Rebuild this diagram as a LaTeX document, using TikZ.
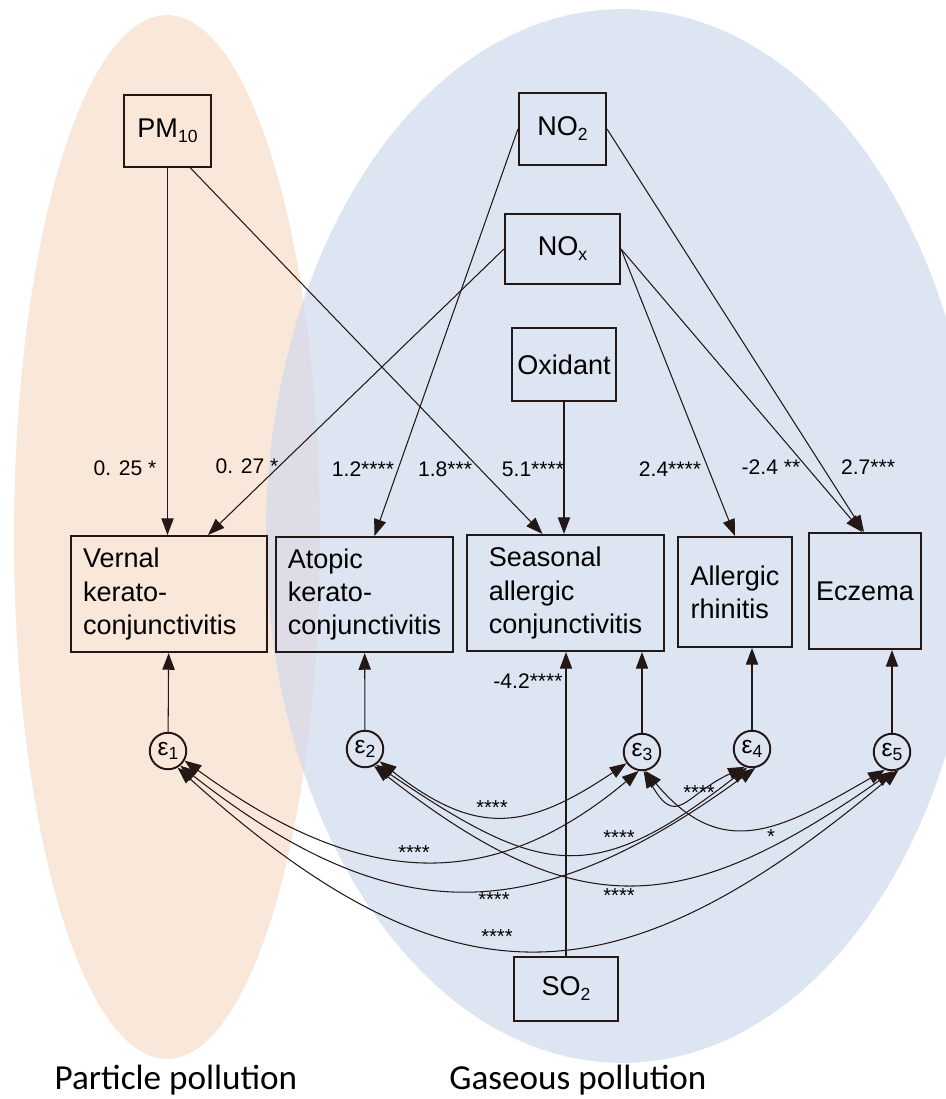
\documentclass[tikz,border=0pt]{standalone}
\usepackage{fontspec}
\setmainfont{Liberation Sans}
\newfontfamily\captionfont{Carlito}
\usepackage{tikz}
\usetikzlibrary{arrows.meta, calc}

\definecolor{partfill}{HTML}{F9E7D9}
\definecolor{gasfill}{HTML}{DDE5F2}
\definecolor{bothfill}{HTML}{DEDCE7}
\definecolor{ink}{HTML}{231815}
\newcommand{\chemsub}[1]{\raisebox{-0.35ex}{\fontsize{10}{12}\selectfont #1}}

\begin{document}
\begin{tikzpicture}[x=0.02cm, y=0.02cm,
          var/.style={rectangle, draw=ink, line width=1.2pt,
                      minimum width=1.74cm, minimum height=1.44cm, inner sep=0pt,
                      font=\fontsize{15.4}{18.8}\selectfont},
          outc/.style={rectangle, draw=ink, line width=1.2pt, align=left, inner sep=0pt,
                      font=\fontsize{15.4}{18.8}\selectfont},
          err/.style={circle, draw=ink, line width=1.1pt, minimum size=0.73cm,
                      inner sep=0pt, font=\fontsize{14}{14}\selectfont},
          coef/.style={font=\fontsize{12}{14}\selectfont, inner sep=1pt},
          stars/.style={font=\fontsize{11.5}{13}\selectfont, inner sep=1pt},
          arr/.style={-{Triangle[length=9.5pt, width=7pt]}, ink, line width=0.6pt},
          cov/.style={{Triangle[length=9.5pt, width=7pt]}-{Triangle[length=9.5pt, width=7pt]},
                      ink, line width=0.6pt}]
          % two groups of pollutants
          \useasboundingbox (0,0) rectangle (946,-1099);
          \begin{scope}
            \clip (0,0) rectangle (946,-1099);
            \fill[partfill] (167,-537) ellipse [x radius=3.06cm, y radius=10.44cm];
            \fill[gasfill] (622,-536) ellipse [x radius=7.12cm, y radius=10.54cm];
            \clip (167,-537) ellipse [x radius=3.06cm, y radius=10.44cm];
            \fill[bothfill] (622,-536) ellipse [x radius=7.12cm, y radius=10.54cm];
          \end{scope}

          % exposures
          \node[var] (pm10) at (167.5,-131) {PM\chemsub{10}};
          \node[var] (no2)  at (562.5,-129) {NO\chemsub{2}};
          \node[var, minimum width=2.3cm, minimum height=1.4cm] (nox) at (562.5,-249) {NO\chemsub{x}};
          \node[var, minimum width=2.08cm, minimum height=1.46cm] (oxid) at (564,-364.5) {Oxidant};
          \node[var, minimum width=2.08cm, minimum height=1.28cm] (so2) at (566,-989) {SO\chemsub{2}};

          % outcomes
          \node[outc, text width=3.44cm, inner xsep=0.24cm, minimum height=2.32cm] (vkc) at (169,-594)
               {Vernal\\kerato-\\conjunctivitis};
          \node[outc, minimum width=3.54cm, minimum height=2.3cm] (akc) at (364.5,-594.5)
               {Atopic\\kerato-\\conjunctivitis};
          \node[outc, minimum width=3.94cm, minimum height=2.32cm] (sac) at (565.5,-593)
               {Seasonal\\allergic\\conjunctivitis};
          \node[outc, minimum width=2.28cm, minimum height=2.2cm] (ar) at (735,-592) {Allergic\\rhinitis};
          \node[outc, minimum width=2.24cm, minimum height=2.32cm] (ecz) at (865,-591) {Eczema};

          % error terms
          \node[err] (e1) at (168,-751) {ε\chemsub{1}};
          \node[err] (e2) at (365,-749) {ε\chemsub{2}};
          \node[err] (e3) at (642,-752) {ε\chemsub{3}};
          \node[err] (e4) at (752,-749) {ε\chemsub{4}};
          \node[err] (e5) at (892,-752) {ε\chemsub{5}};

          % paths
          \draw[arr] (pm10) -- (pm10 |- vkc.north);
          \draw[arr] ($(pm10.south)+(23,0)$) -- ($(sac.north)+(-23,0)$);
          \draw[arr] (nox.west) -- ($(vkc.north)+(39,0)$);
          \draw[arr] (no2.west) -- ($(akc.north)+(10,0)$);
          \draw[arr] (oxid) -- (oxid |- sac.north);
          \draw[arr] (nox.east) -- (ar.north);
          \draw[arr] (nox.east) -- ($(ecz.north)+(-3,0)$);
          \draw[arr] (no2.east) -- ($(ecz.north)+(-1,0)$);
          \draw[arr] (so2) -- (so2 |- sac.south);
          \draw[arr] (e1) -- (vkc);
          \draw[arr] (e2) -- (akc);
          \draw[arr] (e3) -- (e3 |- sac.south);
          \draw[arr] (e4) -- (e4 |- ar.south);
          \draw[arr] (e5) -- (e5 |- ecz.south);

          % coefficients
          \node[coef] (c1) at (125,-468) {0. 25 *};
          \node[coef] (c2) at (247,-466) {0. 27 *};
          \node[coef] (c3) at (363,-469) {1.2****};
          \node[coef] (c4) at (445,-469) {1.8***};
          \node[coef] (c5) at (533,-469) {5.1****};
          \node[coef] (c6) at (670,-469) {2.4****};
          \node[coef] (c7) at (771,-467) {-2.4 **};
          \node[coef] (c8) at (868,-467) {2.7***};
          \node[coef] (c9) at (528,-681) {-4.2****};

          % error covariances
          \draw[cov] (e1.-30) to[out=-36, in=-140, looseness=1.15] (e3.-100);
          \draw[cov] (e1.-50) to[out=-38, in=-144, looseness=1.21] (e4.-80);
          \draw[cov] (e1.-60) to[out=-42, in=-140, looseness=1.3] (e5.-70);
          \draw[cov] (e2.-40) to[out=-38, in=-146, looseness=1.26] (e3.-144);
          \draw[cov] (e2.-55) to[out=-34, in=-142, looseness=1.36] (e4.-105);
          \draw[cov] (e2.-62) to[out=-38, in=-145, looseness=1.27] (e5.-88);
          \draw[cov] (e3.-85) to[out=-60, in=-155, looseness=1.68] (e4.-112);
          \draw[cov] (e3.-80) to[out=-50, in=-150, looseness=1.28] (e5.-112);
          \node[stars] (s1) at (492,-808) {****};
          \node[stars] (s2) at (414,-853) {****};
          \node[stars] (s3) at (494,-900) {****};
          \node[stars] (s4) at (497,-937) {****};
          \node[stars] (s5) at (619,-838) {****};
          \node[stars] (s6) at (619,-896) {****};
          \node[stars] (s7) at (699,-793) {****};
          \node[stars] (s8) at (771,-837) {*};

          % group names
          \node[font=\captionfont\fontsize{20}{24}\selectfont, anchor=base] (plab) at (176,-1089) {Particle pollution};
          \node[font=\captionfont\fontsize{20}{24}\selectfont, anchor=base] (glab) at (578,-1089) {Gaseous pollution};
        \end{tikzpicture}
\end{document}
